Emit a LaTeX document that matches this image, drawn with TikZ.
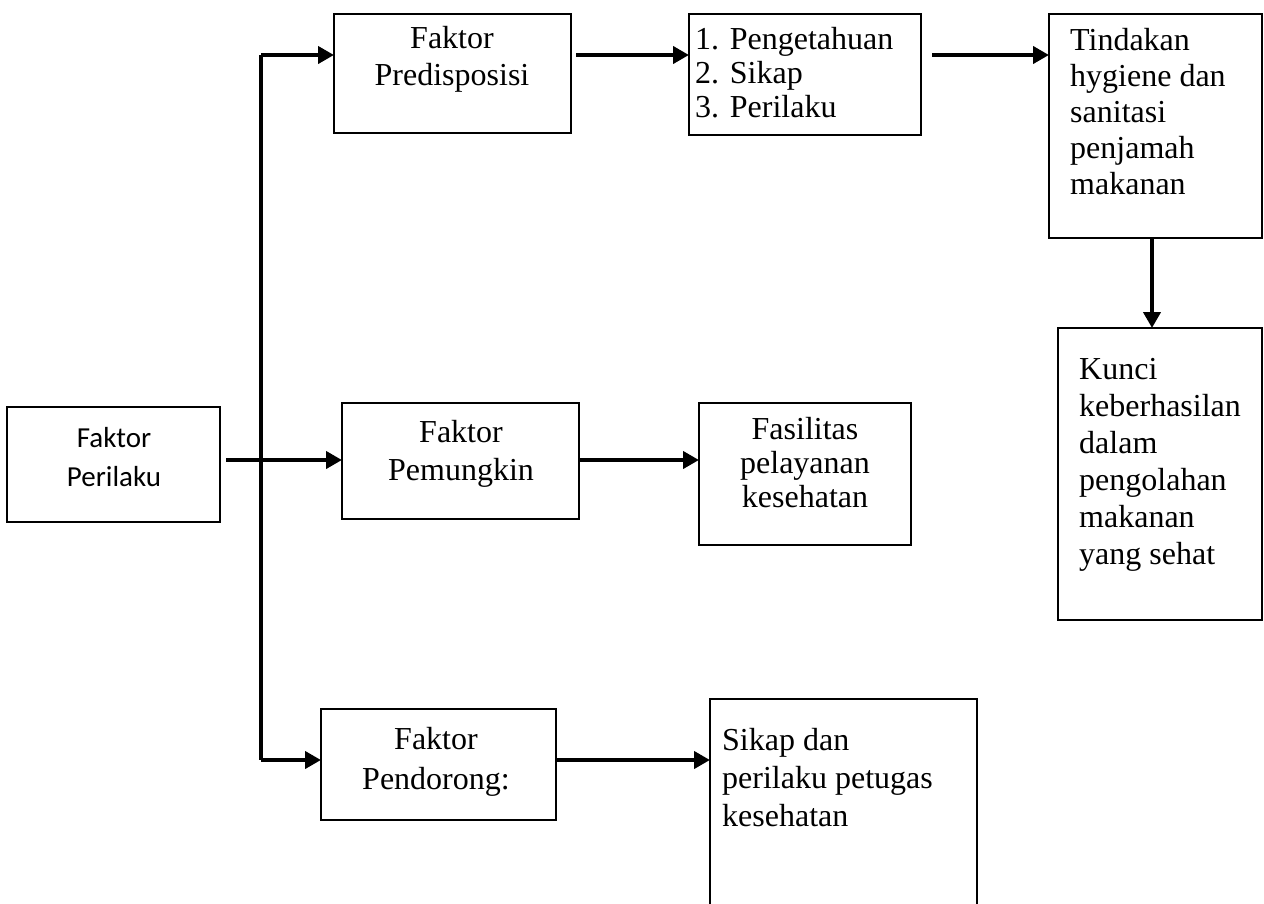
\documentclass[tikz,border=0pt]{standalone}
\usepackage{fontspec}
\setmainfont{Liberation Serif}
\newfontfamily\tnr{Liberation Serif}
\newfontfamily\calfont{Carlito}
\usetikzlibrary{arrows.meta}
\newcommand{\tf}[1]{\tnr\fontsize{32}{#1}\selectfont}
\tikzset{
  box/.style={draw, line width=1.9pt, rectangle, inner sep=0pt, outer sep=0pt, anchor=north west},
  arr/.style={line width=4pt, -{Triangle[length=16pt,width=17pt]}},
  ctext/.style={align=center, inner sep=0pt, anchor=north},
  ltext/.style={align=left, inner sep=0pt, anchor=north west},
}
\begin{document}
\begin{tikzpicture}[x=1pt,y=-1pt]
\path[use as bounding box] (0,0) rectangle (1264,903);
\clip (0,0) rectangle (1264,903);
% boxes
\node[box, minimum width=213pt, minimum height=115pt] (perilaku) at (7,407) {};
\node[box, minimum width=237pt, minimum height=119pt] (pred) at (334,14) {};
\node[box, minimum width=232pt, minimum height=121pt] (list) at (689,14) {};
\node[box, minimum width=213pt, minimum height=224pt] (tind) at (1049,14) {};
\node[box, minimum width=204pt, minimum height=292pt] (kunci) at (1058,328) {};
\node[box, minimum width=237pt, minimum height=116pt] (pemu) at (342,403) {};
\node[box, minimum width=212pt, minimum height=142pt] (fasi) at (699,403) {};
\node[box, minimum width=235pt, minimum height=111pt] (pend) at (321,709) {};
\node[box, minimum width=267pt, minimum height=215pt] (sikap) at (710,699) {};
% texts
\node[ctext, font=\calfont\fontsize{29}{39}\selectfont] (perilakuT) at (114,427) {Faktor\\Perilaku};
\node[ctext, font=\tf{37}] (predT) at (452,26) {Faktor\\Predisposisi};
\node[ltext, font=\tf{34}] (listT) at (695,27) {1. Pengetahuan\\2. Sikap\\3. Perilaku};
\node[ltext, font=\tf{36}] (tindT) at (1070,28) {Tindakan\\hygiene dan\\sanitasi\\penjamah\\makanan};
\node[ltext, font=\tf{37}] (kunciT) at (1079,358) {Kunci\\keberhasilan\\dalam\\pengolahan\\makanan\\yang sehat};
\node[ctext, font=\tf{38}] (pemuT) at (461,420) {Faktor\\Pemungkin};
\node[ctext, font=\tf{34}] (fasiT) at (805,417) {Fasilitas\\pelayanan\\kesehatan};
\node[ctext, font=\tf{40}] (pendT) at (436,727) {Faktor\\Pendorong:};
\node[ltext, font=\tf{38}] (sikapT) at (722,728) {Sikap dan\\perilaku petugas\\kesehatan};
% connectors
\coordinate (vtop) at (261,55);
\coordinate (vbot) at (261,760);
\coordinate (pstart) at (226,460);
\draw[line width=3.6pt] (vtop) -- (vbot);
\draw[arr] (vtop) -- (pred.west |- vtop);
\draw[arr] (vbot) -- (pend.west |- vbot);
\draw[arr] (pstart) -- (pemu.west |- pstart);
\draw[arr] ([xshift=5pt]pred.east |- vtop) -- (list.west |- vtop);
\draw[arr] ([xshift=11pt]list.east |- vtop) -- (tind.west |- vtop);
\draw[arr] (tind.south -| 1152,0) -- (kunci.north -| 1152,0);
\draw[arr] (pemu.east |- pstart) -- (fasi.west |- pstart);
\draw[arr] (pend.east |- vbot) -- (sikap.west |- vbot);
\end{tikzpicture}
\end{document}
